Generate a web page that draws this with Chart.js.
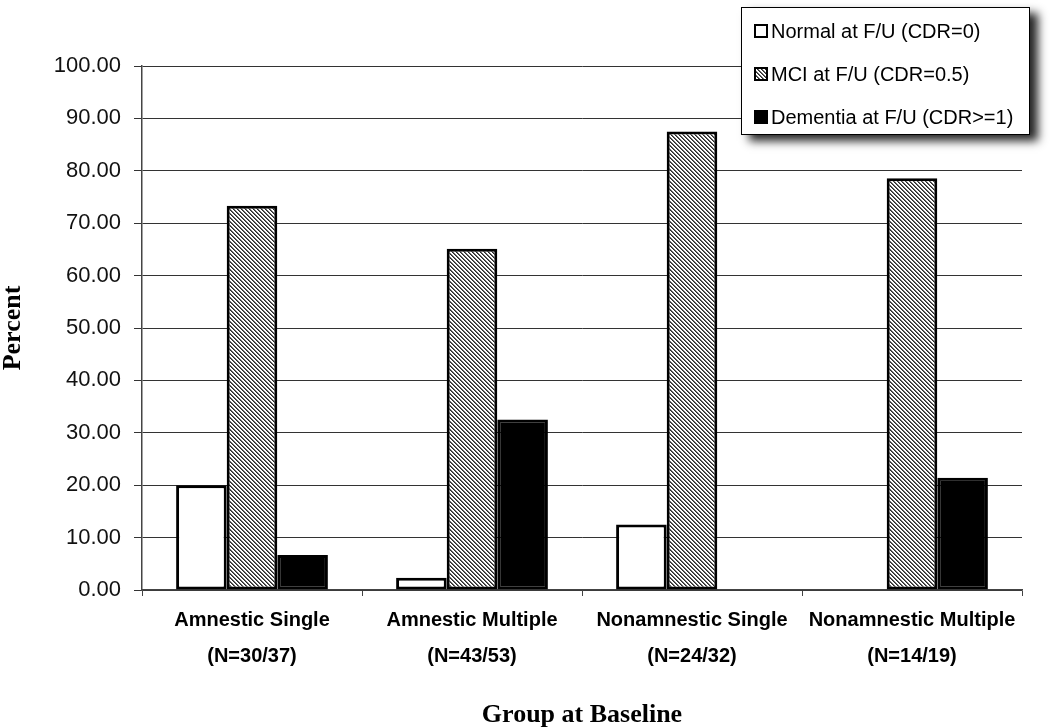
<!DOCTYPE html>
<html>
<head>
<meta charset="utf-8">
<script src="https://cdn.jsdelivr.net/npm/chart.js@4/dist/chart.umd.min.js"></script>
<style>
  html, body { margin: 0; padding: 0; background: #fff; }
  #wrap { width: 1050px; height: 727px; position: relative; }
</style>
</head>
<body>
<div id="wrap"><canvas id="c" width="1050" height="727"></canvas></div>
<script>
const categories = [
  ["Amnestic Single", "(N=30/37)"],
  ["Amnestic Multiple", "(N=43/53)"],
  ["Nonamnestic Single", "(N=24/32)"],
  ["Nonamnestic Multiple", "(N=14/19)"]
];
const seriesNames = ["Normal at F/U (CDR=0)", "MCI at F/U (CDR=0.5)", "Dementia at F/U (CDR>=1)"];
const normalValues   = [20.00, 2.33, 12.50, 0.00];
const mciValues      = [73.33, 65.12, 87.50, 78.57];
const dementiaValues = [6.67, 32.56, 0.00, 21.43];
const yTicks = [0, 10, 20, 30, 40, 50, 60, 70, 80, 90, 100];

// hatch pattern (diagonal "\" lines)
function makeHatch() {
  const p = document.createElement('canvas');
  p.width = 4; p.height = 4;
  const g = p.getContext('2d');
  g.fillStyle = '#ffffff';
  g.fillRect(0, 0, 4, 4);
  for (let y = 0; y < 4; y++) {
    for (let x = 0; x < 4; x++) {
      const d = ((x - y) % 4 + 4) % 4;
      if (d === 0) { g.fillStyle = '#2a2a2a'; g.fillRect(x, y, 1, 1); }
      if (d === 1) { g.fillStyle = '#6a6a6a'; g.fillRect(x, y, 1, 1); }
    }
  }
  return document.createElement('canvas').getContext('2d').createPattern(p, 'repeat');
}
const hatch = makeHatch();

const legendBox = {
  id: 'legendBox',
  afterDraw(chart) {
    const ctx = chart.ctx;
    const x = 741, y = 7, w = 289, h = 128;
    ctx.save();
    ctx.shadowColor = 'rgba(0,0,0,0.85)';
    ctx.shadowBlur = 9;
    ctx.shadowOffsetX = 8;
    ctx.shadowOffsetY = 6;
    ctx.fillStyle = '#ffffff';
    ctx.fillRect(x, y, w, h);
    ctx.restore();
    ctx.save();
    ctx.strokeStyle = '#000';
    ctx.lineWidth = 1;
    ctx.strokeRect(x + 0.5, y + 0.5, w - 1, h - 1);
    const rows = [31, 74, 117];
    ctx.font = '20px "Liberation Sans", Arial, sans-serif';
    ctx.textBaseline = 'middle';
    chart.data.datasets.forEach((ds, i) => {
      const cy = rows[i];
      ctx.fillStyle = ds.backgroundColor;
      ctx.fillRect(755, cy - 6, 12, 12);
      ctx.strokeStyle = '#000';
      ctx.lineWidth = 2;
      ctx.strokeRect(755, cy - 6, 12, 12);
      ctx.fillStyle = '#000';
      ctx.fillText(ds.label, 771, cy + 1);
    });
    ctx.restore();
  }
};

new Chart(document.getElementById('c'), {
  type: 'bar',
  data: {
    labels: categories,
    datasets: [
      { label: seriesNames[0], data: normalValues, backgroundColor: '#ffffff', borderColor: '#000', borderWidth: 3 },
      { label: seriesNames[1], data: mciValues, backgroundColor: hatch, borderColor: '#000', borderWidth: 3 },
      { label: seriesNames[2], data: dementiaValues, backgroundColor: '#000000', borderColor: '#000', borderWidth: 3 }
    ]
  },
  plugins: [legendBox],
  options: {
    responsive: false,
    animation: false,
    devicePixelRatio: 1,
    layout: { padding: { top: 66, right: 28, left: 0, bottom: 0 } },
    datasets: { bar: { categoryPercentage: 0.69, barPercentage: 1.0, borderSkipped: false } },
    plugins: {
      legend: { display: false },
      tooltip: { enabled: false }
    },
    scales: {
      x: {
        grid: { drawOnChartArea: false, drawTicks: true, tickLength: 6, offset: true, color: '#444' },
        border: { color: '#444', width: 1.5 },
        ticks: {
          font: { family: '"Liberation Sans", Arial, sans-serif', size: 20, weight: 'bold', lineHeight: 36 / 20 },
          color: '#000',
          padding: 6,
          maxRotation: 0,
          autoSkip: false
        },
        title: {
          display: true,
          text: 'Group at Baseline',
          font: { family: '"Liberation Serif", "Times New Roman", serif', size: 26, weight: 'bold', lineHeight: 0.9 },
          color: '#000',
          padding: 0
        },
        afterFit(scale) { scale.height = 727 - 590; }
      },
      y: {
        min: 0,
        max: 100,
        afterBuildTicks(scale) { scale.ticks = yTicks.map(v => ({ value: v })); },
        grid: { color: '#333', lineWidth: 1, drawTicks: true, tickLength: 8 },
        border: { color: '#444', width: 1.5 },
        ticks: {
          font: { family: '"Liberation Sans", Arial, sans-serif', size: 22 },
          color: '#111',
          padding: 13,
          callback: v => Number(v).toFixed(2)
        },
        title: {
          display: true,
          text: 'Percent',
          font: { family: '"Liberation Serif", "Times New Roman", serif', size: 26, weight: 'bold', lineHeight: 1.0 },
          color: '#000',
          padding: 0
        },
        afterFit(scale) { scale.width = 142; }
      }
    }
  }
});
</script>
</body>
</html>
